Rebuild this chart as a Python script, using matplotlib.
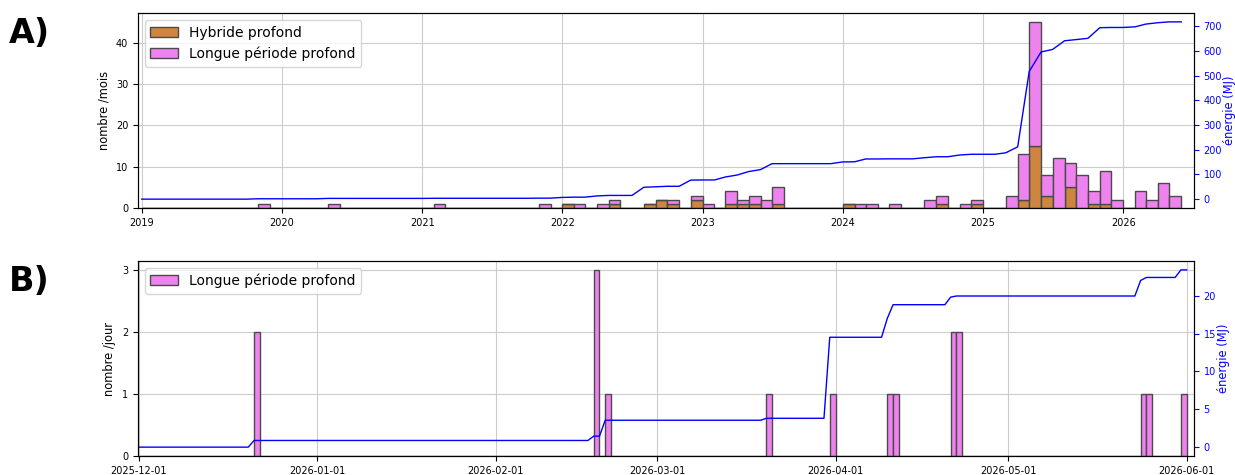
import numpy as np
import pandas as pd
import matplotlib
matplotlib.use('Agg')
import matplotlib.pyplot as plt
import matplotlib.dates as mdates

# A) nombre d'evenements par mois et energie (MJ) liberee par mois
mois = ['2019-11', '2020-05', '2021-02', '2021-11', '2022-01', '2022-02', '2022-04', '2022-05',
        '2022-08', '2022-09', '2022-10', '2022-12', '2023-01', '2023-03', '2023-04', '2023-05',
        '2023-06', '2023-07', '2024-01', '2024-02', '2024-03', '2024-05', '2024-08', '2024-09',
        '2024-11', '2024-12', '2025-03', '2025-04', '2025-05', '2025-06', '2025-07', '2025-08',
        '2025-09', '2025-10', '2025-11', '2025-12', '2026-02', '2026-03', '2026-04', '2026-05']
hybride = [0, 0, 0, 0, 1, 0, 0, 1,
           1, 2, 1, 2, 0, 1, 1, 1,
           0, 1, 1, 0, 0, 0, 0, 1,
           0, 1, 0, 2, 15, 3, 0, 5,
           0, 1, 1, 0, 0, 0, 0, 0]
longue_periode = [1, 1, 1, 1, 0, 1, 1, 1,
                  0, 0, 1, 1, 1, 3, 1, 2,
                  2, 4, 0, 1, 1, 1, 2, 2,
                  1, 1, 3, 11, 30, 5, 12, 6,
                  8, 3, 8, 2, 4, 2, 6, 3]
energie_mois = [1.5, 1.5, 0.5, 0.5, 3, 1, 5, 2,
                33, 2, 2, 25, 0.5, 12, 8, 14,
                8, 24, 7, 0.5, 11.5, 0.5, 4.5, 4,
                7, 3, 6, 24, 305, 79, 10, 35,
                5, 5, 43, 0.9, 2.7, 11, 5.5, 3.4]

# B) nombre d'evenements par jour et energie (MJ) par jour
jours = ['2025-12-21', '2026-02-18', '2026-02-20', '2026-03-20', '2026-03-31', '2026-04-10',
         '2026-04-11', '2026-04-21', '2026-04-22', '2026-05-24', '2026-05-25', '2026-05-31']
lp_jour = [2, 3, 1, 1, 1, 1, 1, 2, 2, 1, 1, 1]
energie_jour = [0.88, 0.57, 2.10, 0.26, 10.7, 2.5, 1.8, 1.0, 0.15, 2.05, 0.4, 1.0]

c_hyb = 'peru'
c_lp = 'violet'
c_bord = '#4a4a4a'

fig = plt.figure(figsize=(12.35, 4.75), dpi=100)
ax1 = fig.add_axes([0.1117, 0.5621, 0.855, 0.4105])
ax2 = fig.add_axes([0.1117, 0.0400, 0.855, 0.4105])

# ---- A)
debut = pd.date_range('2019-01-01', '2026-05-01', freq='MS')
idx = pd.to_datetime(mois)
h = pd.Series(hybride, index=idx).reindex(debut, fill_value=0).values
lp = pd.Series(longue_periode, index=idx).reindex(debut, fill_value=0).values
x = mdates.date2num(debut)
larg = mdates.date2num(debut + pd.offsets.MonthBegin(1)) - x
ax1.bar(x, h, width=larg, align='edge', color=c_hyb, edgecolor=c_bord, linewidth=1,
        label='Hybride profond')
ax1.bar(x, lp, bottom=h, width=larg, align='edge', color=c_lp, edgecolor=c_bord, linewidth=1,
        label='Longue période profond')
ax1.set_axisbelow(True)
ax1.grid(color='#cccccc', linewidth=0.8)
ax1.set_ylabel('nombre /mois', fontsize=8.3)
ax1.xaxis.set_major_locator(mdates.YearLocator())
ax1.xaxis.set_major_formatter(mdates.DateFormatter('%Y'))
ax1.set_xlim(mdates.date2num(pd.Timestamp('2018-12-22')), mdates.date2num(pd.Timestamp('2026-07-04')))
ax1.tick_params(labelsize=7)
ax1.legend(loc='upper left', fontsize=10)

pts = pd.date_range('2019-01-01', '2026-06-01', freq='MS')
e_cum = pd.Series(energie_mois, index=idx).reindex(pts, fill_value=0).cumsum().values
ax1b = ax1.twinx()
ax1b.plot(mdates.date2num(pts), e_cum, color='b', linewidth=1)
ax1b.set_ylabel('énergie (MJ)', color='b', fontsize=8.3, labelpad=1)
ax1b.tick_params(axis='y', colors='b', labelsize=7)

# ---- B)
jd = pd.date_range('2025-12-01', '2026-05-31', freq='D')
jidx = pd.to_datetime(jours)
n = pd.Series(lp_jour, index=jidx).reindex(jd, fill_value=0).values
xb = mdates.date2num(jd)
ax2.bar(xb, n, width=1, align='edge', color=c_lp, edgecolor=c_bord, linewidth=1,
        label='Longue période profond')
ax2.set_axisbelow(True)
ax2.grid(color='#cccccc', linewidth=0.8)
ax2.set_ylabel('nombre /jour', fontsize=8.3)
ax2.set_yticks([0, 1, 2, 3])
ax2.xaxis.set_major_locator(mdates.MonthLocator())
ax2.xaxis.set_major_formatter(mdates.DateFormatter('%Y-%m-%d'))
ax2.set_xlim(mdates.date2num(pd.Timestamp('2025-11-30 20:00')), mdates.date2num(pd.Timestamp('2026-06-02 06:00')))
ax2.tick_params(labelsize=7)
ax2.legend(loc='upper left', fontsize=10)

jp = pd.date_range('2025-12-01', '2026-06-01', freq='D')
eb = pd.Series(energie_jour, index=jidx).reindex(jp, fill_value=0).cumsum().values
ax2b = ax2.twinx()
ax2b.plot(mdates.date2num(jp), eb, color='b', linewidth=1)
ax2b.set_ylabel('énergie (MJ)', color='b', fontsize=8.3, labelpad=1)
ax2b.tick_params(axis='y', colors='b', labelsize=7)

fig.text(0.007, 0.93, 'A)', fontsize=24, fontweight='bold', va='center')
fig.text(0.007, 0.408, 'B)', fontsize=24, fontweight='bold', va='center')

fig.savefig('out.png', dpi=100)
